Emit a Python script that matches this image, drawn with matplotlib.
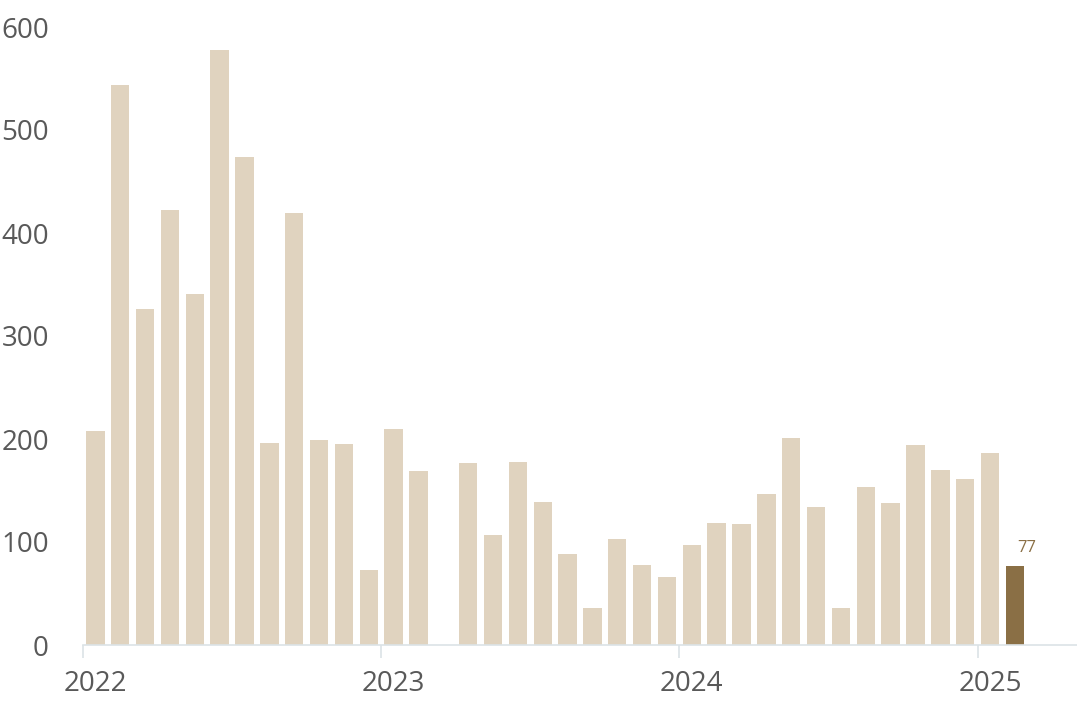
import matplotlib
matplotlib.use("Agg")
import matplotlib.pyplot as plt
import numpy as np

plt.rcParams['font.family'] = ['Open Sans', 'DejaVu Sans']

# Monthly values Jan 2022 .. Feb 2025 (None = no bar)
values = [208, 544, 326, 422, 341, 578, 474, 196, 419, 199, 195, 73,
          210, 169, None, 177, 107, 178, 139, 88, 36, 103, 78, 66,
          97, 118, 117, 147, 201, 134, 36, 153, 138, 194, 170, 161,
          186, 77]
year_labels = ["2022", "2023", "2024", "2025"]
ytick_values = [0, 100, 200, 300, 400, 500, 600]
highlight_index = len(values) - 1
highlight_label = "77"

light = "#E0D3BF"
dark = "#8A6F45"
text_col = "#595959"
axis_col = "#DCE3E6"

W, H = 1077, 718
fig = plt.figure(figsize=(W / 100, H / 100), dpi=100)
ax = fig.add_axes([83 / W, 1 - 645 / H, 1 - 83 / W, (645 - 27) / H])

x = np.arange(len(values)) + 0.5
heights = [v if v is not None else 0 for v in values]
colors = [dark if i == highlight_index else light for i in range(len(values))]
bars = ax.bar(x, heights, width=0.74, color=colors, zorder=2)
for i, v in enumerate(values):
    if v is None:
        bars[i].set_visible(False)

ax.annotate(highlight_label, (x[highlight_index], values[highlight_index]),
            xytext=(2, 7), textcoords="offset points", ha="left", va="bottom",
            color=dark, fontsize=12)

ax.set_xlim(0, 40)
ax.set_ylim(0, 600)

for s in ["top", "right", "left"]:
    ax.spines[s].set_visible(False)
ax.spines["bottom"].set_color(axis_col)
ax.spines["bottom"].set_linewidth(1.2)

ax.set_yticks(ytick_values)
ax.set_yticklabels([str(v) for v in ytick_values])
ax.tick_params(axis="y", length=0, pad=24.5, labelsize=20, labelcolor=text_col)

ax.set_xticks([0, 12, 24, 36])
ax.set_xticklabels([])
ax.tick_params(axis="x", which="major", length=9, width=1.2, color=axis_col)
ax.set_xticks([0.5, 12.5, 24.5, 36.5], minor=True)
ax.set_xticklabels(year_labels, minor=True)
ax.tick_params(axis="x", which="minor", length=0, pad=18, labelsize=20, labelcolor=text_col)

fig.savefig("out.png", dpi=100)
